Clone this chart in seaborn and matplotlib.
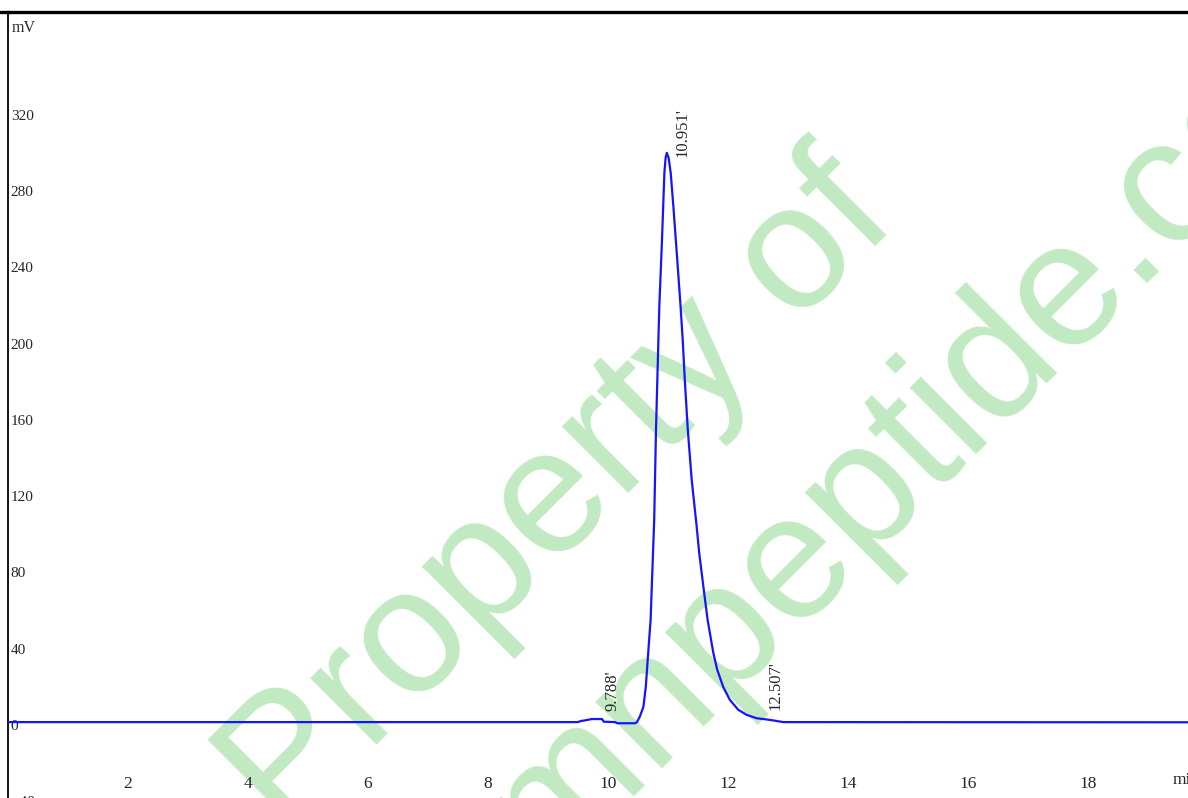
import numpy as np
import pandas as pd
import matplotlib.pyplot as plt
import seaborn as sns
from matplotlib.lines import Line2D

# chromatogram trace (minutes, mV)
time_min = [0.0, 9.50, 9.55, 9.60, 9.73, 9.90, 9.93, 10.12, 10.15, 10.45,
            10.48, 10.53, 10.59, 10.63, 10.67, 10.71, 10.73, 10.77, 10.80, 10.84,
            10.855, 10.90, 10.94, 10.96, 10.98, 11.01, 11.045, 11.09, 11.13, 11.17,
            11.21, 11.245, 11.28, 11.33, 11.395, 11.475, 11.52, 11.59, 11.66, 11.755,
            11.82, 11.92, 12.03, 12.17, 12.31, 12.48, 12.62, 12.75, 12.92, 19.7]
signal_mv = [1.4, 1.4, 2.0, 2.2, 3.0, 3.0, 1.6, 1.4, 0.8, 0.8,
             1.3, 4.2, 9.4, 19.9, 37.8, 55.1, 72.4, 107.6, 154.8, 202.0,
             219.3, 254.5, 289.6, 297.5, 300.1, 297.5, 289.6, 271.8, 254.5, 237.1,
             219.3, 202.0, 181.0, 154.8, 128.5, 104.9, 90.2, 72.4, 55.1, 37.8,
             28.9, 19.9, 13.1, 7.9, 5.2, 3.4, 2.9, 2.3, 1.4, 1.3]

peak_times = [9.788, 10.951, 12.507]
peak_labels = ["9.788'", "10.951'", "12.507'"]

x_ticks = [2, 4, 6, 8, 10, 12, 14, 16, 18]
y_ticks = [-40, 0, 40, 80, 120, 160, 200, 240, 280, 320]

df = pd.DataFrame({'t': time_min, 'mv': signal_mv})

sns.set_style('white')
plt.rcParams['font.family'] = ['Liberation Serif', 'DejaVu Serif']

W, H = 1188, 798
fig = plt.figure(figsize=(W / 100, H / 100), dpi=100)
ax = fig.add_axes([8 / W, -3 / H, 1180 / W, 789 / H])

# watermark (behind the trace)
wm = dict(transform=fig.transFigure, color='#c2eac2', fontsize=128,
          family='Liberation Sans', rotation=45, rotation_mode='anchor',
          ha='center', va='center', zorder=0.5)
ax.text(560 / W, 1 - 497 / H, 'Property of', **wm)
ax.text(897 / W, 1 - 456 / H, 'kimnpeptide.com', **wm)

sns.lineplot(data=df, x='t', y='mv', ax=ax, color='#1414ff', linewidth=1.6,
             estimator=None, sort=False, zorder=3)

# peak retention-time labels
for t, lab in zip(peak_times, peak_labels):
    v = np.interp(t, time_min, signal_mv)
    ax.annotate(lab, (t, v), xytext=(17, 8), textcoords='offset pixels',
                rotation=90, ha='center', va='bottom', fontsize=12)

ax.set_xlim(0, 1180 / 60)
ax.set_ylim(-40, 374)
ax.set_xticks(x_ticks)
ax.set_yticks(y_ticks)
ax.set_xlabel('')
ax.set_ylabel('')

ax.tick_params(axis='x', direction='in', length=6, width=1, pad=-18, labelsize=12.5)
ax.tick_params(axis='y', direction='out', length=5, width=1, pad=-7, labelsize=11)
for tk in ax.yaxis.get_major_ticks():
    tk.label1.set_horizontalalignment('left')

ax.spines['right'].set_visible(False)
ax.spines['top'].set_linewidth(2.4)
ax.spines['left'].set_linewidth(1.3)
ax.spines['bottom'].set_linewidth(1.3)
for s in ax.spines.values():
    s.set_color('black')

fig.add_artist(Line2D([0, 9 / W], [1 - 12 / H] * 2, color='black', lw=2.4))
fig.text(12 / W, 1 - 28 / H, 'mV', ha='left', va='center', fontsize=11.5)
fig.text(1173 / W, 1 - 780 / H, 'min', ha='left', va='center', fontsize=12.5)

fig.savefig('out.png', dpi=100)
